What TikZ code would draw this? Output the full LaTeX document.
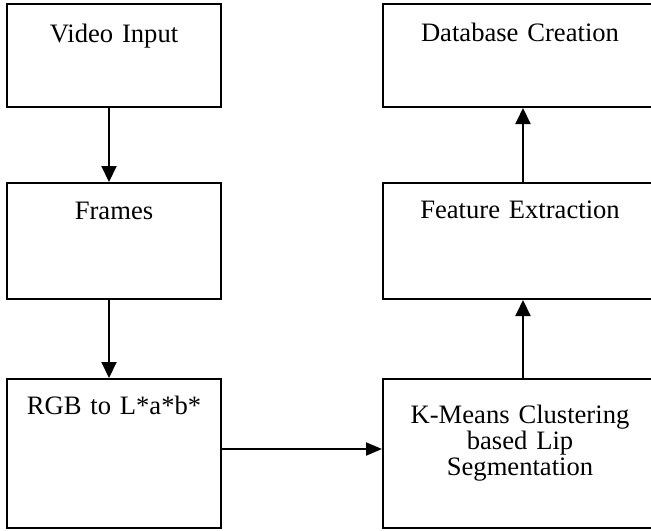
\documentclass[tikz,border=0pt]{standalone}
\usepackage{fontspec}
\setmainfont{Liberation Serif}
\usetikzlibrary{arrows.meta}

\begin{document}
\begin{tikzpicture}[x=0.5pt,y=-0.5pt,>={Triangle[length=8pt,width=7.5pt]},
    box/.style={draw,line width=1pt,inner sep=0pt,align=center,font=\fontsize{13.3}{13.2}\selectfont},
    lbox/.style={box,text width=107pt},
    rbox/.style={box,text width=137pt},
    flow/.style={->,line width=1pt}]
  \useasboundingbox (0,0) rectangle (651,530);
  \node[lbox,text height=19pt,text depth=32.5pt] (video) at (114,55.5) {Video Input};
  \node[lbox,text height=18.2pt,text depth=39.8pt] (frames) at (114,241) {Frames};
  \node[lbox,text height=17.5pt,text depth=57pt] (rgb) at (114,453.5) {RGB to L*a*b*};
  \node[rbox,text height=18.5pt,text depth=33pt] (database) at (520,55.5) {Database Creation};
  \node[rbox,text height=17.9pt,text depth=40.1pt] (feature) at (520,241) {Feature Extraction};
  \node[rbox,text height=22pt,text depth=52.5pt] (kmeans) at (520,453.5) {K-Means Clustering\\based Lip\\Segmentation};
  \draw[flow] ([xshift=-2.5pt]video.south) -- ([xshift=-2.5pt]frames.north);
  \draw[flow] ([xshift=-2.5pt]frames.south) -- ([xshift=-2.5pt]rgb.north);
  \draw[flow,>={Triangle[length=8pt,width=6.5pt]}] ([yshift=2.25pt]rgb.east) -- ([yshift=2.25pt]kmeans.west);
  \draw[flow] ([xshift=1.5pt]kmeans.north) -- ([xshift=1.5pt]feature.south);
  \draw[flow] ([xshift=1.5pt]feature.north) -- ([xshift=1.5pt]database.south);
\end{tikzpicture}
\end{document}
